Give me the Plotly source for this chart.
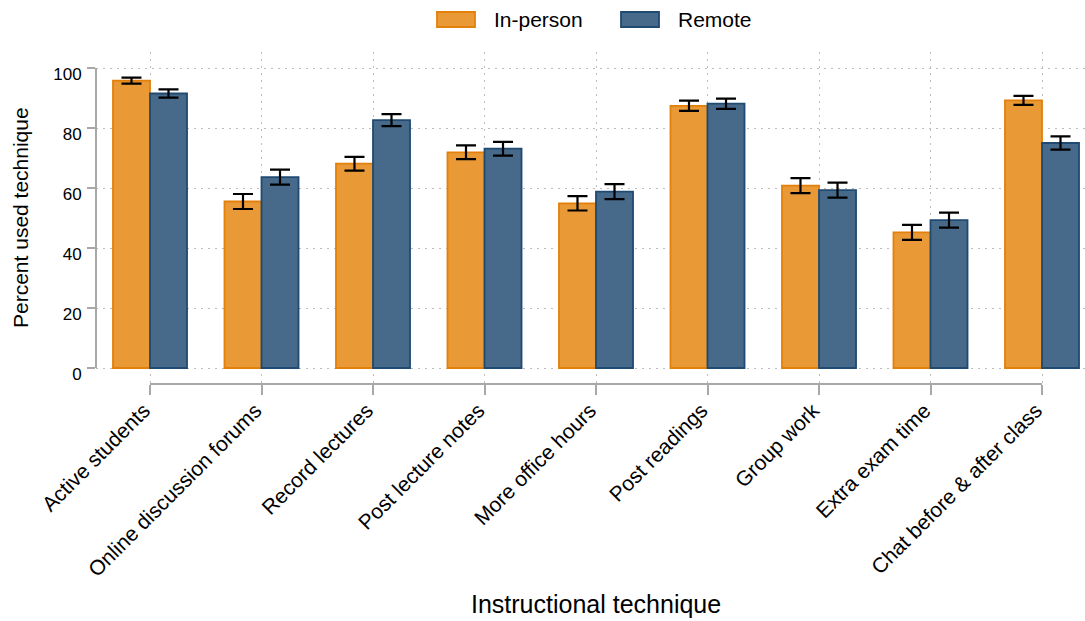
import plotly.graph_objects as go

categories = ["Active students", "Online discussion forums", "Record lectures",
              "Post lecture notes", "More office hours", "Post readings",
              "Group work", "Extra exam time", "Chat before & after class"]
in_person = [95.8, 55.5, 68.1, 71.9, 54.9, 87.4, 60.8, 45.2, 89.2]
in_person_err = [1.0, 2.5, 2.3, 2.3, 2.4, 1.7, 2.5, 2.5, 1.5]
remote = [91.5, 63.6, 82.6, 73.1, 58.8, 88.1, 59.3, 49.3, 75.0]
remote_err = [1.4, 2.5, 2.0, 2.3, 2.5, 1.7, 2.5, 2.5, 2.2]
series_names = ["In-person", "Remote"]
y_ticks = [0, 20, 40, 60, 80, 100]

ORANGE_FILL = "#EA9937"
ORANGE_LINE = "#E3800A"
BLUE_FILL = "#476A8B"
BLUE_LINE = "#1F4A71"
AXIS_GRAY = "#A8A8A8"
GRID_GRAY = "#BDBDBD"
FONT = "Liberation Sans, Arial, sans-serif"

W, H = 1085, 621
L, R, T, B = 96, 0, 52, 237
pw, ph = W - L - R, H - T - B

x_idx = list(range(len(categories)))

fig = go.Figure()
fig.add_trace(go.Bar(
    x=x_idx, y=in_person, name=series_names[0], showlegend=False,
    marker=dict(color=ORANGE_FILL, line=dict(color=ORANGE_LINE, width=1.8)),
    error_y=dict(type="data", array=in_person_err, color="black", thickness=2.2, width=10),
))
fig.add_trace(go.Bar(
    x=x_idx, y=remote, name=series_names[1], showlegend=False,
    marker=dict(color=BLUE_FILL, line=dict(color=BLUE_LINE, width=1.8)),
    error_y=dict(type="data", array=remote_err, color="black", thickness=2.2, width=10),
))

x_lo = -54 / 111.5
x_hi = x_lo + pw / 111.5
y_lo = -16 / 3
y_hi = y_lo + ph / 3

fig.update_layout(
    width=W, height=H,
    margin=dict(l=L, r=R, t=T, b=B, autoexpand=False),
    paper_bgcolor="white", plot_bgcolor="white",
    barmode="group", bargap=0.336, bargroupgap=0,
    font=dict(family=FONT, color="black"),
    showlegend=False,
    xaxis=dict(
        range=[x_lo, x_hi], tickmode="array", tickvals=x_idx, ticktext=categories,
        tickangle=-45, tickfont=dict(size=21, family=FONT, color="black"),
        ticks="outside", ticklen=10, tickwidth=2, tickcolor=AXIS_GRAY,
        ticklabelstandoff=-5, ticklabelshift=-6,
        showline=False, zeroline=False,
        showgrid=True, gridcolor=GRID_GRAY, griddash="2px,5px", gridwidth=1.2,
    ),
    yaxis=dict(
        range=[y_lo, y_hi], tickmode="array", tickvals=y_ticks,
        tickfont=dict(size=17, family=FONT, color="black"),
        ticks="outside", ticklen=8, tickwidth=2, tickcolor=AXIS_GRAY,
        ticklabelshift=6, ticklabelstandoff=2,
        showline=False, zeroline=False,
        showgrid=True, gridcolor=GRID_GRAY, griddash="2px,5px", gridwidth=1.2,
    ),
)

# offset axis lines
fig.add_shape(type="line", xref="paper", yref="y", x0=0, x1=0, y0=0, y1=100,
              line=dict(color=AXIS_GRAY, width=2))
fig.add_shape(type="line", xref="x", yref="paper", x0=0, x1=len(categories) - 1, y0=0, y1=0,
              line=dict(color=AXIS_GRAY, width=2))

def px_x(px):
    return (px - L) / pw

def px_y(py):
    return (H - B - py) / ph

# legend
legend_items = [(series_names[0], ORANGE_FILL, ORANGE_LINE, 437, 492),
                (series_names[1], BLUE_FILL, BLUE_LINE, 621, 676)]
for name, fill, line, rx, tx in legend_items:
    fig.add_shape(type="rect", xref="paper", yref="paper",
                  x0=px_x(rx), x1=px_x(rx + 38), y0=px_y(27), y1=px_y(12),
                  fillcolor=fill, line=dict(color=line, width=1.8))
    fig.add_annotation(xref="paper", yref="paper", x=px_x(tx), y=px_y(20),
                       text=name, showarrow=False, xanchor="left", yanchor="middle",
                       font=dict(size=21, family=FONT, color="black"))

# axis titles
fig.add_annotation(xref="paper", yref="paper", x=px_x(596), y=px_y(604),
                   text="Instructional technique", showarrow=False,
                   xanchor="center", yanchor="middle",
                   font=dict(size=25, family=FONT, color="black"))
fig.add_annotation(xref="paper", yref="paper", x=px_x(20), y=0.5,
                   text="Percent used technique", showarrow=False, textangle=-90,
                   xanchor="center", yanchor="middle",
                   font=dict(size=21, family=FONT, color="black"))

fig.write_html("out.html",
               config={"displayModeBar": False},
               post_script="document.body.style.margin='0';document.body.style.overflow='hidden';")
